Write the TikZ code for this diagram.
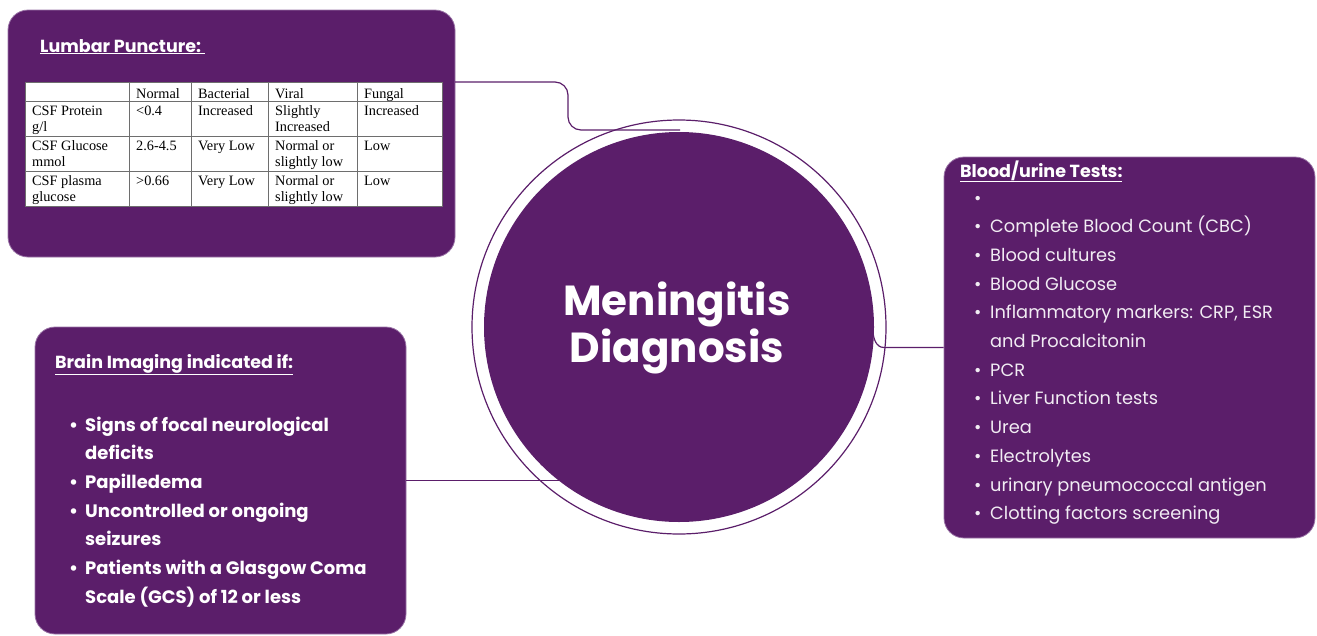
\documentclass[tikz,border=0pt]{standalone}
\usepackage{fontspec}
\setmainfont{Poppins}
\newfontfamily\tabfont{Liberation Serif}
\definecolor{mpurple}{HTML}{5B1E6A}
\definecolor{mborder}{HTML}{9A74A6}
\definecolor{mtext}{HTML}{F1ECF3}
\definecolor{tline}{HTML}{6E6E6E}
\begin{document}
\begin{tikzpicture}[x=1pt,y=-1pt,
  box/.style={fill=mpurple, draw=mborder, line width=0.8pt, rounded corners=20pt, inner sep=0pt},
  conn/.style={draw=mpurple, line width=1.2pt},
  ttl/.style={anchor=base west, inner sep=0pt, text=white, font=\fontsize{17.5}{20}\selectfont\bfseries},
  cell/.style={anchor=base west, inner sep=0pt, font=\tabfont\fontsize{14.3}{16}\selectfont},
  itemr/.style={anchor=base west, inner sep=0pt, text=mtext, font=\fontsize{17.8}{20}\selectfont},
  iteml/.style={anchor=base west, inner sep=0pt, text=white, font=\fontsize{18}{20}\selectfont\bfseries},
  grid/.style={draw=tline, line width=0.9pt}
]
\useasboundingbox (0,0) rectangle (1317,635);
% boxes
\node[box, minimum width=447, minimum height=247] (lp) at (231.5,133.5) {};
\node[box, minimum width=371, minimum height=381] (bt) at (1129.5,347.5) {};
\node[box, minimum width=371, minimum height=307] (bi) at (220.5,480.5) {};
% connectors
\coordinate (lpout) at (455,82);
\coordinate (topend) at (680,130);
\coordinate (lend) at (561,480.5);
\coordinate (rend) at (873,330);
\draw[conn, rounded corners=13pt] (lpout) -- (568,82) -- (568,130) -- (topend);
\draw[conn] (bi.east) -- (lend);
\draw[conn] (bt.west) -- (884,347.5) to[out=180,in=-90] (rend);
% central circle
\node[circle, draw=mpurple, line width=1.2pt, minimum size=414, inner sep=0pt] (ring) at (679,327) {};
\node[circle, fill=mpurple, minimum size=390, inner sep=0pt] (disk) at (679,327) {};
\node[text=white, align=center, font=\fontsize{42}{47}\selectfont\bfseries] (main) at (677,328) {Meningitis\\Diagnosis};
% lumbar puncture
\node[ttl] (lpt) at (40,52) {\underline{Lumbar Puncture:\ }};
\node[fill=white, draw=tline, line width=0.9pt, minimum width=417, minimum height=124, anchor=north west, inner sep=0pt] (tbl) at (25,82) {};
\draw[grid] (25,101) -- (442,101);
\draw[grid] (25,136) -- (442,136);
\draw[grid] (25,171) -- (442,171);
\draw[grid] (129,82) -- (129,206);
\draw[grid] (191,82) -- (191,206);
\draw[grid] (268,82) -- (268,206);
\draw[grid] (357,82) -- (357,206);
\foreach \x/\y/\t [count=\i] in {
  136/98/Normal, 198/98/Bacterial, 275/98/Viral, 364/98/Fungal,
  32/115/{CSF Protein}, 32/131.5/{g/l}, 136/115/{<0.4}, 198/115/Increased, 275/115/Slightly, 275/131.5/Increased, 364/115/Increased,
  32/150/{CSF Glucose}, 32/166.5/mmol, 136/150/{2.6-4.5}, 198/150/{Very Low}, 275/150/{Normal or}, 275/166.5/{slightly low}, 364/150/Low,
  32/185/{CSF plasma}, 32/201.5/glucose, 136/185/{>0.66}, 198/185/{Very Low}, 275/185/{Normal or}, 275/201.5/{slightly low}, 364/185/Low}
  \node[cell] (c\i) at (\x,\y) {\t};
% blood/urine
\node[ttl] (btt) at (960,177) {\underline{Blood/urine Tests:}};
\foreach \b/\t [count=\k from 0] in {
  1/{}, 1/{Complete Blood Count (CBC)}, 1/{Blood cultures}, 1/{Blood Glucose},
  1/{Inflammatory markers: CRP, ESR}, 0/{and Procalcitonin}, 1/{PCR},
  1/{Liver Function tests}, 1/{Urea}, 1/{Electrolytes},
  1/{urinary pneumococcal antigen}, 1/{Clotting factors screening}}
{
  \node[itemr] (r\k) at (990,204+28.7*\k) {\t};
  \ifnum\b=1 \node[itemr] (rb\k) at (974,204+28.7*\k) {•}; \fi
}
% brain imaging
\node[ttl] (bit) at (55,368) {\underline{Brain Imaging indicated if:}};
\foreach \b/\t [count=\k from 0] in {
  1/{Signs of focal neurological}, 0/{deficits}, 1/{Papilledema},
  1/{Uncontrolled or ongoing}, 0/{seizures},
  1/{Patients with a Glasgow Coma}, 0/{Scale (GCS) of 12 or less}}
{
  \node[iteml] (l\k) at (85,431+28.7*\k) {\t};
  \ifnum\b=1 \node[iteml] (lb\k) at (69,431+28.7*\k) {•}; \fi
}
\end{tikzpicture}
\end{document}
